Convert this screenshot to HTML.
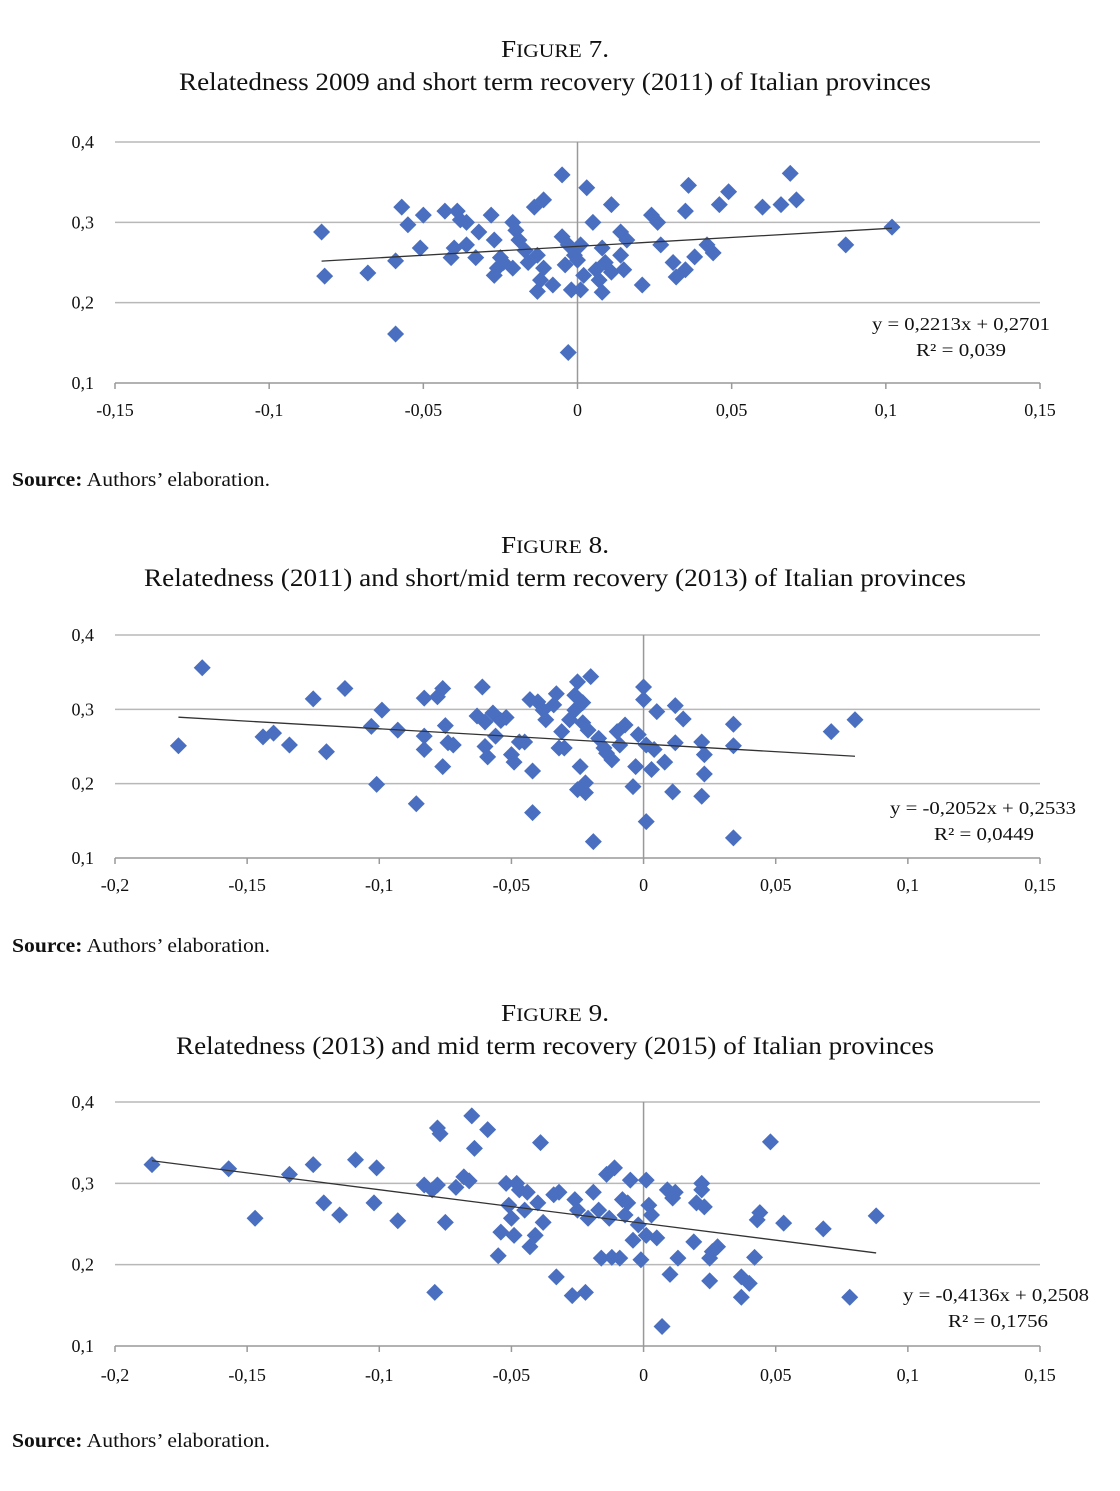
<!DOCTYPE html>
<html><head><meta charset="utf-8"><style>
body{margin:0;background:#fff;}
svg text{font-family:"Liberation Serif",serif;fill:#111;}
</style></head><body>
<svg id="page" width="1120" height="1486" xmlns="http://www.w3.org/2000/svg">
<rect width="1120" height="1486" fill="#fff"/>
<g>
<text x="555" y="57" text-anchor="middle" font-size="24" textLength="108" lengthAdjust="spacingAndGlyphs">F<tspan font-size="19">IGURE</tspan> 7.</text>
<text x="555" y="90" text-anchor="middle" font-size="25" textLength="752" lengthAdjust="spacingAndGlyphs">Relatedness 2009 and short term recovery (2011) of Italian provinces</text></g>
<g>
<text x="555" y="553" text-anchor="middle" font-size="24" textLength="108" lengthAdjust="spacingAndGlyphs">F<tspan font-size="19">IGURE</tspan> 8.</text>
<text x="555" y="586" text-anchor="middle" font-size="25" textLength="822" lengthAdjust="spacingAndGlyphs">Relatedness (2011) and short/mid term recovery (2013) of Italian provinces</text></g>
<g>
<text x="555" y="1021" text-anchor="middle" font-size="24" textLength="108" lengthAdjust="spacingAndGlyphs">F<tspan font-size="19">IGURE</tspan> 9.</text>
<text x="555" y="1054" text-anchor="middle" font-size="25" textLength="758" lengthAdjust="spacingAndGlyphs">Relatedness (2013) and mid term recovery (2015) of Italian provinces</text></g>
<text x="12" y="486" font-size="20" textLength="258" lengthAdjust="spacingAndGlyphs"><tspan font-weight="bold">Source:</tspan> Authors’ elaboration.</text>
<text x="12" y="952" font-size="20" textLength="258" lengthAdjust="spacingAndGlyphs"><tspan font-weight="bold">Source:</tspan> Authors’ elaboration.</text>
<text x="12" y="1447" font-size="20" textLength="258" lengthAdjust="spacingAndGlyphs"><tspan font-weight="bold">Source:</tspan> Authors’ elaboration.</text>
</svg>
<script>
const xs1=[-0.083,-0.082,-0.068,-0.059,-0.059,-0.057,-0.055,-0.050,-0.051,-0.043,-0.039,-0.038,-0.036,-0.041,-0.040,-0.036,-0.033,-0.032,-0.028,-0.027,-0.026,-0.025,-0.027,-0.024,-0.021,-0.021,-0.020,-0.019,-0.017,-0.016,-0.014,-0.013,-0.013,-0.011,-0.011,-0.012,-0.008,-0.005,-0.005,-0.004,-0.003,-0.002,-0.003,-0.001,0.000,0.001,0.001,0.003,0.002,0.005,0.006,0.007,0.008,0.008,0.009,0.011,0.011,0.014,0.014,0.015,0.016,0.021,0.024,0.026,0.027,0.031,0.032,0.035,0.035,0.036,0.038,0.042,0.044,0.046,0.049,0.060,0.066,0.069,0.071,0.087,0.102];
const ys1=[0.288,0.233,0.237,0.252,0.161,0.319,0.297,0.309,0.268,0.314,0.314,0.303,0.300,0.256,0.268,0.272,0.256,0.288,0.309,0.278,0.243,0.256,0.234,0.250,0.243,0.300,0.290,0.278,0.265,0.250,0.319,0.259,0.214,0.328,0.243,0.228,0.222,0.359,0.282,0.247,0.272,0.216,0.138,0.259,0.253,0.216,0.272,0.343,0.234,0.300,0.241,0.228,0.268,0.213,0.250,0.322,0.238,0.288,0.259,0.241,0.278,0.222,0.309,0.300,0.272,0.250,0.232,0.241,0.314,0.346,0.257,0.272,0.262,0.322,0.338,0.319,0.322,0.361,0.328,0.272,0.294];
const xs2=[-0.176,-0.167,-0.144,-0.140,-0.134,-0.125,-0.120,-0.113,-0.103,-0.101,-0.099,-0.093,-0.086,-0.083,-0.083,-0.083,-0.078,-0.076,-0.075,-0.076,-0.074,-0.072,-0.063,-0.061,-0.060,-0.060,-0.059,-0.057,-0.056,-0.054,-0.052,-0.050,-0.049,-0.047,-0.045,-0.042,-0.042,-0.043,-0.040,-0.038,-0.037,-0.034,-0.033,-0.032,-0.031,-0.030,-0.028,-0.026,-0.026,-0.025,-0.025,-0.024,-0.023,-0.023,-0.022,-0.022,-0.021,-0.020,-0.019,-0.017,-0.015,-0.014,-0.012,-0.010,-0.009,-0.007,-0.004,-0.003,-0.002,0.000,0.000,0.001,0.001,0.003,0.004,0.005,0.008,0.011,0.012,0.012,0.015,0.022,0.022,0.023,0.023,0.034,0.034,0.034,0.071,0.080];
const ys2=[0.251,0.356,0.263,0.268,0.252,0.314,0.243,0.328,0.277,0.199,0.299,0.272,0.173,0.264,0.315,0.246,0.317,0.328,0.278,0.223,0.255,0.252,0.291,0.330,0.283,0.250,0.236,0.295,0.264,0.285,0.289,0.239,0.229,0.256,0.256,0.161,0.217,0.313,0.310,0.299,0.286,0.306,0.321,0.248,0.270,0.248,0.286,0.299,0.319,0.192,0.337,0.223,0.282,0.309,0.201,0.188,0.272,0.344,0.122,0.261,0.248,0.241,0.232,0.270,0.252,0.279,0.196,0.223,0.266,0.330,0.313,0.252,0.149,0.219,0.246,0.297,0.229,0.189,0.255,0.305,0.287,0.256,0.183,0.239,0.213,0.280,0.251,0.127,0.270,0.286];
const xs3=[-0.186,-0.157,-0.147,-0.134,-0.125,-0.121,-0.115,-0.109,-0.102,-0.101,-0.093,-0.083,-0.080,-0.078,-0.079,-0.078,-0.077,-0.075,-0.071,-0.068,-0.066,-0.065,-0.064,-0.059,-0.055,-0.054,-0.052,-0.051,-0.050,-0.049,-0.048,-0.047,-0.045,-0.044,-0.043,-0.041,-0.040,-0.039,-0.038,-0.034,-0.033,-0.032,-0.027,-0.026,-0.025,-0.022,-0.021,-0.019,-0.017,-0.016,-0.014,-0.013,-0.012,-0.011,-0.009,-0.008,-0.007,-0.006,-0.005,-0.004,-0.002,-0.001,0.001,0.001,0.002,0.003,0.005,0.007,0.009,0.010,0.011,0.012,0.013,0.019,0.020,0.022,0.022,0.023,0.025,0.025,0.026,0.028,0.037,0.037,0.040,0.042,0.043,0.044,0.048,0.053,0.068,0.078,0.088];
const ys3=[0.323,0.318,0.257,0.311,0.323,0.276,0.261,0.329,0.276,0.319,0.254,0.298,0.292,0.298,0.166,0.368,0.361,0.252,0.295,0.308,0.303,0.383,0.343,0.366,0.211,0.240,0.300,0.273,0.257,0.236,0.300,0.292,0.267,0.289,0.222,0.236,0.276,0.350,0.252,0.286,0.185,0.289,0.162,0.280,0.267,0.166,0.257,0.289,0.267,0.208,0.311,0.257,0.209,0.319,0.208,0.280,0.261,0.276,0.304,0.230,0.249,0.206,0.304,0.236,0.273,0.261,0.233,0.124,0.292,0.188,0.282,0.289,0.208,0.228,0.276,0.292,0.300,0.271,0.208,0.180,0.216,0.222,0.160,0.185,0.177,0.209,0.255,0.264,0.351,0.251,0.244,0.160,0.260];
const xTicks1=[-0.15,-0.1,-0.05,0,0.05,0.1,0.15];
const xTicks2=[-0.2,-0.15,-0.1,-0.05,0,0.05,0.1,0.15];
const yTicks=[0.1,0.2,0.3,0.4];
const fit1=[0.2213,0.2701], fit2=[-0.2052,0.2533], fit3=[-0.4136,0.2508];
const eq1=["y = 0,2213x + 0,2701","R² = 0,039"], eq2=["y = -0,2052x + 0,2533","R² = 0,0449"], eq3=["y = -0,4136x + 0,2508","R² = 0,1756"];

const NS="http://www.w3.org/2000/svg";
const svg=document.getElementById('page');
function mk(tag,attrs,parent){const e=document.createElementNS(NS,tag);for(const k in attrs)e.setAttribute(k,attrs[k]);parent.appendChild(e);return e;}
const fmt=v=>{if(Math.abs(v)<1e-9)return "0";return String(+v.toFixed(2)).replace('.',',');};
function chart(id,xs,ys,xt,fit,eq,cfg){
  const g=mk('g',{},svg);
  
  
  const x0=xt[0],x1=xt[xt.length-1];
  const X=v=>115+(v-x0)/(x1-x0)*925;
  const Y=v=>cfg.yb-(v-0.1)/0.3*(cfg.yb-cfg.yt);
  yTicks.forEach(t=>{
    if(t>0.1){const l=mk('line',{x1:115,x2:1040,y1:Y(t),y2:Y(t),stroke:'#b8b8b8','stroke-width':1.5},g);
    
    }
    const tx=mk('text',{x:94,y:Y(t)+6,'text-anchor':'end','font-size':18},g);tx.textContent=fmt(t);
    
    
  });
  const ax=mk('line',{x1:115,x2:1040,y1:Y(0.1),y2:Y(0.1),stroke:'#999','stroke-width':1.5},g);
  
  
  const zl=mk('line',{x1:X(0),x2:X(0),y1:Y(0.4),y2:Y(0.1),stroke:'#999','stroke-width':1.5},g);
  
  
  xt.forEach(t=>{
    mk('line',{x1:X(t),x2:X(t),y1:Y(0.1),y2:Y(0.1)+6,stroke:'#999','stroke-width':1.5},g);
    const tx=mk('text',{x:X(t),y:cfg.xl,'text-anchor':'middle','font-size':18},g);tx.textContent=fmt(t);
    
    
  });
  xs.forEach((v,i)=>{
    const cx=X(v),cy=Y(ys[i]),r=8.5;
    const p=mk('polygon',{points:`${cx},${cy-r} ${cx+r},${cy} ${cx},${cy+r} ${cx-r},${cy}`,fill:'#4a6fc0'},g);
    
    
  });
  const mn=Math.min(...xs),mx=Math.max(...xs);
  const tl=mk('line',{x1:X(mn),y1:Y(fit[0]*mn+fit[1]),x2:X(mx),y2:Y(fit[0]*mx+fit[1]),stroke:'#333','stroke-width':1.3},g);
  
  
  const e1=mk('text',{x:cfg.ex1,y:cfg.ey,'text-anchor':'end','font-size':18,textLength:cfg.w1,lengthAdjust:'spacingAndGlyphs'},g);e1.textContent=eq[0];
  
  
  const e2=mk('text',{x:cfg.ex2,y:cfg.ey+26,'text-anchor':'end','font-size':18,textLength:cfg.w2,lengthAdjust:'spacingAndGlyphs'},g);e2.textContent=eq[1];
  
  
}
chart('figure-7-chart',xs1,ys1,xTicks1,fit1,eq1,{yt:142,yb:383,xl:416,ex1:1050,ex2:1006,ey:330,w1:178,w2:90});
chart('figure-8-chart',xs2,ys2,xTicks2,fit2,eq2,{yt:635,yb:858,xl:891,ex1:1076,ex2:1034,ey:814,w1:186,w2:100});
chart('figure-9-chart',xs3,ys3,xTicks2,fit3,eq3,{yt:1102,yb:1346,xl:1381,ex1:1089,ex2:1048,ey:1301,w1:186,w2:100});
</script>
</body></html>
